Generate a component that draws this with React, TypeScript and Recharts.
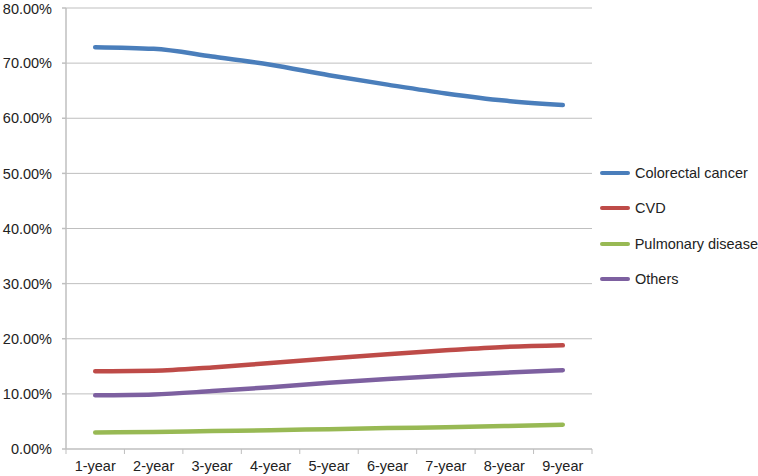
import { LineChart, Line, XAxis, YAxis, CartesianGrid, Legend } from 'recharts'

const years = ['1-year', '2-year', '3-year', '4-year', '5-year', '6-year', '7-year', '8-year', '9-year']
const colorectal = [72.9, 72.6, 71.2, 69.7, 67.8, 66.1, 64.5, 63.2, 62.4]
const cvd = [14.1, 14.2, 14.8, 15.6, 16.4, 17.2, 17.9, 18.5, 18.8]
const pulmonary = [3.0, 3.1, 3.25, 3.4, 3.6, 3.8, 3.95, 4.15, 4.4]
const others = [9.75, 9.9, 10.5, 11.2, 12.0, 12.7, 13.3, 13.85, 14.3]
const yTicks = [0, 10, 20, 30, 40, 50, 60, 70, 80]

const series = [
  { key: 'colorectal', name: 'Colorectal cancer', color: '#4a7ebb' },
  { key: 'cvd', name: 'CVD', color: '#be4b48' },
  { key: 'pulmonary', name: 'Pulmonary disease', color: '#98b954' },
  { key: 'others', name: 'Others', color: '#7d60a0' },
]

const data = years.map((year, i) => ({
  year,
  colorectal: colorectal[i],
  cvd: cvd[i],
  pulmonary: pulmonary[i],
  others: others[i],
}))

const FONT = '"Liberation Sans", Arial, Helvetica, sans-serif'
const GRID = '#bfbfbf'

function XTick(props: any) {
  const { x, y, payload, width, visibleTicksCount, index } = props
  const bw = width / visibleTicksCount
  return (
    <g>
      <line x1={x - bw / 2} x2={x - bw / 2} y1={y} y2={y + 5} stroke={GRID} />
      {index === visibleTicksCount - 1 && (
        <line x1={x + bw / 2} x2={x + bw / 2} y1={y} y2={y + 5} stroke={GRID} />
      )}
      <text x={x} y={y + 22} textAnchor="middle" fontSize={14.5} fill="#222" fontFamily={FONT}>
        {payload.value}
      </text>
    </g>
  )
}

function LegendBox() {
  return (
    <div style={{ fontFamily: FONT, fontSize: 14.5, color: '#222', whiteSpace: 'nowrap' }}>
      {series.map((s) => (
        <div key={s.key} style={{ display: 'flex', alignItems: 'center', height: 35.5 }}>
          <span style={{ display: 'inline-block', width: 30, height: 4, borderRadius: 2, background: s.color, marginRight: 5 }} />
          {s.name}
        </div>
      ))}
    </div>
  )
}

export default function App() {
  return (
    <div style={{ position: 'absolute', left: 0, top: 0 }}>
      <LineChart width={758} height={476} data={data} margin={{ top: 8, right: 8, bottom: 0, left: 8 }}>
        <CartesianGrid vertical={false} stroke={GRID} />
        <XAxis
          dataKey="year"
          scale="band"
          stroke={GRID}
          tickLine={false}
          tickSize={0}
          tickMargin={0}
          tick={<XTick />}
          interval={0}
          height={27}
        />
        <YAxis
          domain={[0, 80]}
          ticks={yTicks}
          width={58}
          stroke={GRID}
          strokeWidth={1.5}
          tickSize={4}
          tickMargin={10}
          tick={{ fontSize: 14.5, fill: '#222', fontFamily: FONT }}
          tickFormatter={(v: number) => v.toFixed(2) + '%'}
        />
        <Legend
          layout="vertical"
          align="right"
          verticalAlign="top"
          content={<LegendBox />}
          wrapperStyle={{ left: 600, top: 155, width: 158 }}
        />
        {series.map((s) => (
          <Line
            key={s.key}
            type="monotone"
            dataKey={s.key}
            name={s.name}
            stroke={s.color}
            strokeWidth={4.5}
            strokeLinecap="round"
            dot={false}
            activeDot={false}
            isAnimationActive={false}
          />
        ))}
      </LineChart>
    </div>
  )
}
